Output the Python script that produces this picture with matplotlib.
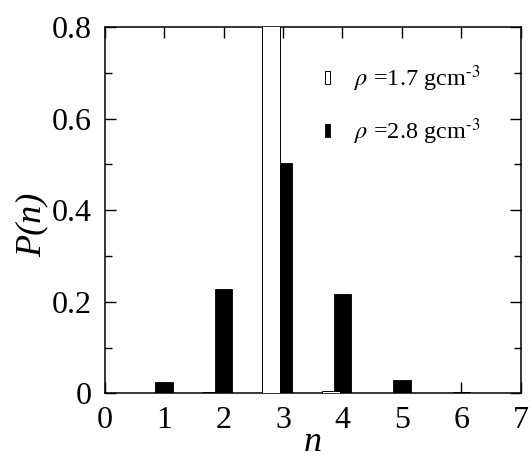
import matplotlib
matplotlib.use('Agg')
import matplotlib.pyplot as plt
import numpy as np

# P(n) distributions for two densities
n = [0, 1, 2, 3, 4, 5, 6]
p_low = [0.0, 0.0, 0.002, 0.99, 0.006, 0.0, 0.0]        # rho = 1.7 gcm-3 (open bars)
p_high = [0.001, 0.025, 0.228, 0.504, 0.216, 0.028, 0.002]  # rho = 2.8 gcm-3 (filled bars)
labels = ['$\\rho$ =1.7 gcm$^{\u2010 3}$', '$\\rho$ =2.8 gcm$^{\u2010 3}$']
xticks = [0, 1, 2, 3, 4, 5, 6, 7]
yticks = [0, 0.2, 0.4, 0.6, 0.8]

plt.rcParams['font.family'] = ['Liberation Serif', 'DejaVu Serif']
plt.rcParams['mathtext.fontset'] = 'stix'

fig = plt.figure(figsize=(5.31, 4.69), dpi=100)
ax = fig.add_axes([0.197, 0.1614, 0.784, 0.7806])

x = np.array(n)
b_high = ax.bar(x, p_high, width=0.3, color='black', edgecolor='black', linewidth=0.6, zorder=2)
b_low = ax.bar(x - 0.2, p_low, width=0.3, color='white', edgecolor='black', linewidth=0.7, zorder=3)

ax.set_xlim(0, 7)
ax.set_ylim(0, 0.8)
ax.set_xticks(xticks)
ax.set_xticklabels([str(t) for t in xticks])
ax.set_yticks(yticks)
ax.set_yticklabels(['0', '0.2', '0.4', '0.6', '0.8'])
ax.set_yticks(np.arange(0.1, 0.8, 0.2), minor=True)

ax.tick_params(which='both', direction='in', top=True, right=True, labelsize=23, width=1.0)
ax.tick_params(which='major', length=8)
ax.tick_params(which='minor', length=5)
ax.tick_params(axis='x', pad=9)
ax.tick_params(axis='y', pad=9)
for s in ax.spines.values():
    s.set_linewidth(1.1)

ax.set_xlabel('n', fontsize=26, fontstyle='italic', labelpad=-6)
ax.set_ylabel('P(n)', fontsize=26, fontstyle='italic')
ax.yaxis.set_label_coords(-0.135, 0.46)

ax.legend([b_low, b_high], labels, loc='upper left', bbox_to_anchor=(0.53, 0.9),
          frameon=False, fontsize=17.5, handlelength=0.2, handleheight=0.45,
          handletextpad=1.0, labelspacing=0.9, borderpad=0, borderaxespad=0)

fig.savefig('out.png', dpi=100)
